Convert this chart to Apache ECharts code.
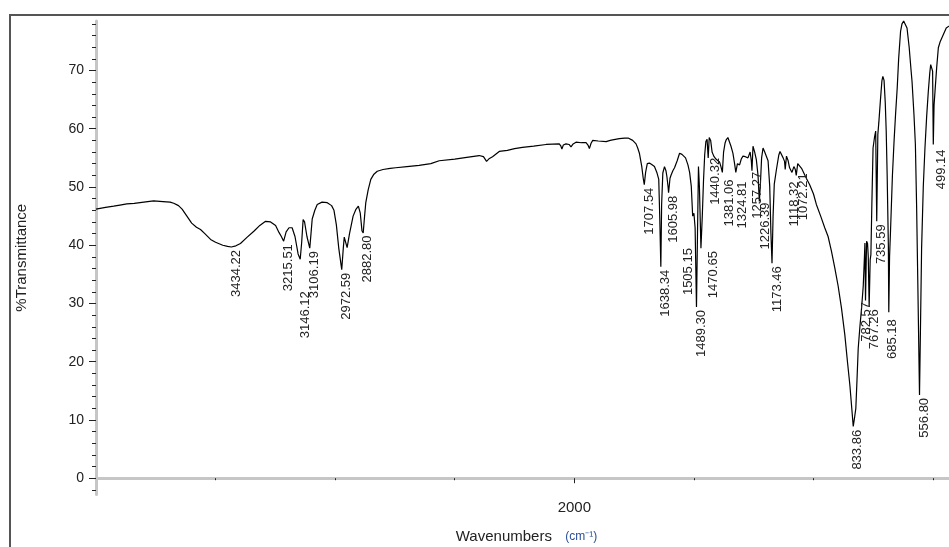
<!DOCTYPE html>
<html>
<head>
<meta charset="utf-8">
<script src="https://cdn.jsdelivr.net/npm/echarts@6/dist/echarts.min.js"></script>
<style>
html,body{margin:0;padding:0;background:#fff;}
#chart{width:949px;height:547px;}
</style>
</head>
<body>
<div id="chart"></div>
<script>
// ---- data ----
const wavenumbers = [
4000,3960,3926,3900,3871,3840,3800,3759,3720,3690,3675,3655,3640,3620,3600,3580,3563,3545,3521,3500,
3470,3450,3434.22,3415,3396,3370,3340,3315,3291,3270,3249,3235,3225,3215.51,3205,3193,3180,3168,3155,3146.12,
3140,3134,3128,3118,3106.19,3100,3096,3085,3075,3055,3033,3015,3005,2995,2985,2972.59,2966,2962,2956,2950,
2940,2925,2914,2903,2895,2888,2882.80,2877,2872,2862,2851,2838,2824,2800,2770,2747,2700,2649,2600,2565,
2500,2450,2398,2380,2367,2355,2342,2314,2280,2250,2217,2170,2118,2063,2056,2052,2046,2035,2022,2014,
2005,1993,1970,1951,1943,1937,1930,1923,1900,1867,1850,1840,1812,1790,1775,1756,1742,1735,1728,1718,
1712,1707.54,1702,1695,1686,1675,1665,1655,1647,1643,1638.34,1635,1630,1623,1617,1613,1608,1605.98,1600,1595,
1588,1581,1570,1560,1550,1546,1535,1525,1518,1511,1505.15,1500,1495,1489.30,1485,1481,1477,1470.65,1465,1460,
1455,1450,1445,1440.32,1436,1430,1424,1417,1408,1400,1393,1387,1381.06,1376,1370,1365,1358,1351,1345,1337,
1330,1324.81,1318,1309,1302,1295,1285,1274,1265,1260,1257.27,1253,1246,1239,1232,1226.39,1222,1217,1211,1204,
1197,1190,1183,1178,1173.46,1169,1164,1155,1145,1140,1134,1127,1121,1118.32,1113,1106,1100,1090,1082,1076,
1072.21,1066,1058,1050,1044,1030,1016,1000,988,970,953,939,925,911,897,883,869,858,848,840,
833.86,828,823,818,813,806,799,792,787,785,782.57,778,774,771,767.26,763,760,756,751,745,
740,735.59,731,727,720,714,710,705,700,696,692,687,685.18,682,678,670,663,657,650,644,
636,630,623,616,609,600,592,588,580,574,569,564,560,556.80,553,548,541,534,527,520,
514,510,506,502,499.14,496,492,485,478,470,457,445,434,420,400
];
const transmittance = [
46.2,46.5,46.7,46.9,47.1,47.2,47.4,47.6,47.5,47.4,47.2,46.8,46.2,45.0,43.8,43.1,42.7,42.0,41.0,40.5,
40.0,39.8,39.7,39.9,40.3,41.3,42.4,43.4,44.1,44.0,43.4,42.2,41.5,40.7,42.3,43.0,43.0,41.5,38.5,37.6,
40.5,44.4,44.0,41.5,39.5,42.5,44.5,46.0,47.0,47.4,47.3,46.8,46.0,43.5,39.5,35.8,39.5,41.4,40.5,39.6,
42.0,45.0,46.1,46.7,45.5,42.5,42.1,45.0,47.3,49.5,51.3,52.2,52.7,53.0,53.2,53.3,53.5,53.7,54.0,54.5,
54.8,55.1,55.4,55.2,54.4,54.9,55.2,56.1,56.3,56.6,56.8,57.0,57.3,57.4,57.0,56.5,57.2,57.4,57.3,56.9,
57.4,57.7,57.6,57.6,57.2,56.6,57.5,58.0,57.9,57.8,58.0,58.1,58.3,58.4,58.4,58.0,57.4,56.7,55.8,53.5,
51.5,50.4,52.5,54.0,54.1,53.8,53.5,52.5,51.3,45.0,36.3,47.0,52.4,53.5,52.8,51.8,50.0,49.0,51.5,52.1,
52.8,53.3,54.5,55.8,55.6,55.5,55.0,53.8,52.5,50.1,45.0,45.5,43.0,29.4,42.0,53.5,50.0,39.5,45.0,51.0,
55.5,57.8,58.2,55.0,58.5,58.0,56.0,55.3,54.8,54.6,54.3,53.5,52.5,56.0,57.5,58.1,58.5,58.3,57.0,55.8,
54.0,52.5,54.0,53.8,54.8,55.3,55.2,55.0,56.0,54.5,52.8,57.0,56.0,54.7,52.0,47.5,50.5,55.0,56.7,56.0,
55.8,54.5,50.1,42.0,36.9,45.0,50.5,53.0,55.5,56.1,55.8,55.0,54.4,53.0,55.3,54.5,53.3,52.5,53.5,53.0,
52.0,54.0,54.0,53.2,52.7,51.5,50.4,48.8,47.0,45.0,43.0,41.5,39.0,36.1,33.0,29.2,24.6,20.0,16.0,12.0,
8.9,10.5,12.0,17.0,22.3,26.0,29.2,33.0,38.0,40.4,30.5,40.7,40.3,38.0,29.5,37.5,38.4,47.0,56.7,58.5,
59.6,44.1,59.0,61.0,65.0,68.2,69.0,68.3,64.5,59.6,52.0,40.0,28.5,38.0,42.4,52.0,58.0,62.4,67.0,72.0,
76.7,78.0,78.5,78.2,77.3,74.0,70.0,68.1,62.5,57.3,47.0,34.0,23.0,14.3,25.0,39.5,50.0,56.7,62.0,66.4,
69.5,71.0,70.8,69.9,57.3,64.0,66.4,70.5,73.9,75.0,76.2,77.3,77.6,78.0,78.2
];
const peakLabels = ['3434.22','3215.51','3146.12','3106.19','2972.59','2882.80','1707.54','1638.34','1605.98',
  '1505.15','1489.30','1470.65','1440.32','1381.06','1324.81','1257.27','1226.39','1173.46','1118.32','1072.21',
  '833.86','782.57','767.26','735.59','685.18','556.80','499.14'];
const yTickValues = [0, 10, 20, 30, 40, 50, 60, 70];
const yMinorTickValues = [-2, 2, 4, 6, 8, 12, 14, 16, 18, 22, 24, 26, 28, 32, 34, 36, 38, 42, 44, 46, 48, 52, 54, 56, 58, 62, 64, 66, 68, 72, 74, 76, 78];
const xTickLabels = [2000];
const xMinorTickValues = [500, 1000, 1500, 2500, 3000, 3500];
const yName = '%Transmittance';
const xName = 'Wavenumbers';
const xUnit = '(cm\u207B\u00B9)';

// ---- label placement (pixel nudges, style only) ----
const labelNudge = {
  '3146.12': [-1, 32], '1505.15': [-10, 32], '1470.65': [6, 3], '1440.32': [1, 0],
  '1381.06': [1, 7], '1324.81': [1, 9], '1257.27': [-1, 1], '1226.39': [0, 1],
  '1118.32': [3, 12], '1072.21': [1, -2], '782.57': [-5, 1.5], '685.18': [-2, 7],
  '499.14': [2, 5], '2882.80': [-2, 2.5], '833.86': [-1.5, 3.5]
};

const spectrum = wavenumbers.map((w, i) => [w, transmittance[i]]);
const peaks = peakLabels.map((s, i) => {
  const w = parseFloat(s);
  const idx = wavenumbers.indexOf(w);
  return [w, transmittance[idx], i];
});

const chart = echarts.init(document.getElementById('chart'), null, {renderer: 'canvas'});
const FONT = '"Liberation Sans", Arial, sans-serif';

chart.setOption({
  animation: false,
  backgroundColor: '#ffffff',
  graphic: [{
    type: 'rect', z: -1, silent: true,
    shape: {x: 10, y: 15, width: 1000, height: 600},
    style: {fill: 'none', stroke: '#555', lineWidth: 2}
  }],
  grid: {left: 96, right: -8, top: 21, bottom: 52.5, containLabel: false, outerBoundsMode: 'none'},
  xAxis: [{
    type: 'value', inverse: true, min: 400, max: 4000,
    axisLine: {show: true, lineStyle: {color: '#c6c6c6', width: 3}},
    axisTick: {show: true, customValues: xTickLabels, length: 5, lineStyle: {color: '#222', width: 1}},
    axisLabel: {show: true, customValues: xTickLabels, margin: 6, fontSize: 15, color: '#222', fontFamily: FONT,
      formatter: function (v) { return String(v); }},
    splitLine: {show: false},
    name: '{a|' + xName + '}    {b|' + xUnit + '}',
    nameLocation: 'middle', nameGap: 35,
    nameTextStyle: {
      rich: {
        a: {fontSize: 15, color: '#222', fontFamily: FONT},
        b: {fontSize: 12, color: '#2b4e9b', fontFamily: FONT}
      }
    }
  }, {
    type: 'value', inverse: true, min: 400, max: 4000, position: 'bottom',
    axisLine: {show: false},
    axisTick: {show: true, customValues: xMinorTickValues, length: 2, lineStyle: {color: '#222', width: 1}},
    axisLabel: {show: false},
    splitLine: {show: false}
  }],
  yAxis: [{
    type: 'value', min: -2.8, max: 78.5,
    axisLine: {show: true, lineStyle: {color: '#c6c6c6', width: 3}},
    axisTick: {show: true, customValues: yTickValues, length: 7, lineStyle: {color: '#222', width: 1}},
    axisLabel: {show: true, customValues: yTickValues, margin: 12, fontSize: 14, color: '#222', fontFamily: FONT},
    splitLine: {show: false},
    name: yName, nameLocation: 'middle', nameGap: 67, nameRotate: 90,
    nameTextStyle: {fontSize: 15, color: '#222', fontFamily: FONT}
  }, {
    type: 'value', min: -2.8, max: 78.5, position: 'left', offset: 0,
    axisLine: {show: false},
    axisTick: {show: true, customValues: yMinorTickValues, length: 4, lineStyle: {color: '#222', width: 1}},
    axisLabel: {show: false},
    splitLine: {show: false}
  }],
  series: [{
    type: 'line',
    xAxisIndex: 0, yAxisIndex: 0,
    data: spectrum,
    showSymbol: false, symbol: 'none',
    clip: false,
    lineStyle: {color: '#000', width: 1.2},
    z: 3
  }, {
    type: 'custom',
    xAxisIndex: 0, yAxisIndex: 0,
    clip: false,
    data: peaks,
    renderItem: function (params, api) {
      const p = api.coord([api.value(0), api.value(1)]);
      const txt = peakLabels[api.value(2)];
      const n = labelNudge[txt] || [-1, 3];
      return {
        type: 'text',
        x: p[0] + n[0] - 0.5, y: p[1] + n[1],
        rotation: Math.PI / 2,
        style: {text: txt, fontSize: 13, fontFamily: FONT, fill: '#222', align: 'right', verticalAlign: 'top'}
      };
    },
    z: 4
  }]
});
</script>
</body>
</html>
